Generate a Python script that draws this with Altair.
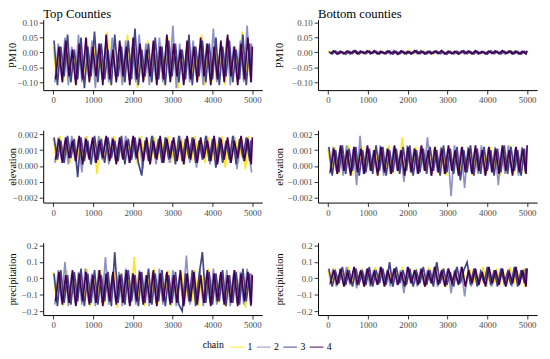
import altair as alt
import pandas as pd

ITER = [1, 86, 170, 255, 340, 424, 509, 594, 678, 763,
        848, 932, 1017, 1102, 1186, 1271, 1356, 1440, 1525, 1610,
        1694, 1779, 1864, 1948, 2033, 2118, 2202, 2287, 2372, 2456,
        2541, 2626, 2710, 2795, 2880, 2964, 3049, 3134, 3218, 3303,
        3388, 3472, 3557, 3642, 3726, 3811, 3896, 3980, 4065, 4150,
        4234, 4319, 4404, 4488, 4573, 4658, 4742, 4827, 4912, 4940]
# each chain's draws were thinned at slightly different iterations
CHAIN_SHIFT = [0, 42, 21, 60]

CHAINS = ["1", "2", "3", "4"]
COLORS = ["#FDE725", "#8F92C4", "#414487", "#440154"]
TITLES = ["Top Counties", "Bottom counties"]

# ---- Top counties, PM10
A1 = [.02,-.09,.01,-.10,.04,-.08,.00,-.11,.03,-.07, .05,-.09,.02,-.10,.01,-.08,.07,-.11,.00,-.09,
      .03,-.10,.06,-.08,.01,-.12,.02,-.09,.04,-.10, .00,-.08,.03,-.11,.05,-.09,.02,-.12,.01,-.10,
      .04,-.08,.02,-.09,.06,-.11,.01,-.10,.03,-.09, .00,-.11,.05,-.08,.02,-.10,.07,-.09,.01,-.08]
A2 = [-.10,.03,-.08,.05,-.11,.02,-.09,.06,-.10,.01, -.08,.04,-.12,.03,-.09,.02,-.10,.05,-.08,.01,
      -.11,.04,-.09,.02,-.10,.06,-.08,.03,-.11,.00, -.09,.05,-.10,.02,-.08,.09,-.12,.03,-.09,.01,
      -.10,.04,-.08,.02,-.11,.03,-.09,.08,-.10,.01, -.08,.05,-.11,.02,-.09,.04,-.10,.09,-.08,.03]
A3 = [.04,-.11,.02,-.08,.06,-.10,.01,-.09,.05,-.12, .02,-.08,.07,-.10,.03,-.09,.01,-.11,.06,-.08,
      .02,-.10,.04,-.09,.08,-.11,.01,-.08,.03,-.10, .05,-.09,.02,-.11,.04,-.08,.03,-.10,.01,-.09,
      .06,-.11,.02,-.08,.04,-.10,.03,-.09,.05,-.11, .02,-.08,.04,-.10,.01,-.09,.06,-.11,.03,-.10]
A4 = [-.09,.02,-.10,.04,-.08,.01,-.11,.03,-.09,.05, -.10,.02,-.08,.03,-.11,.06,-.09,.01,-.10,.04,
      -.08,.02,-.11,.05,-.09,.03,-.10,.01,-.08,.04, -.11,.02,-.09,.06,-.10,.03,-.08,.01,-.11,.04,
      -.09,.02,-.10,.05,-.08,.03,-.11,.02,-.09,.04, -.10,.06,-.08,.02,-.11,.03,-.09,.05,-.10,.02]

# ---- Bottom counties, PM10
B1 = [.004,-.004,.003,-.005,.005,-.003,.002,-.006,.004,-.004, .003,-.005,.006,-.003,.002,-.004,.005,-.006,.003,-.004,
      .004,-.003,.002,-.005,.007,-.004,.003,-.005,.004,-.003, .005,-.006,.002,-.004,.003,-.005,.006,-.003,.004,-.004,
      .002,-.005,.005,-.004,.003,-.006,.004,-.003,.005,-.004, .003,-.005,.002,-.004,.006,-.003,.004,-.005,.003,-.004]
B2 = [-.005,.004,-.003,.005,-.004,.003,-.006,.004,-.003,.005, -.004,.006,-.005,.003,-.004,.005,-.003,.004,-.006,.007,
      -.004,.005,-.003,.004,-.005,.003,-.004,.006,-.003,.004, -.005,.003,-.004,.005,-.006,.004,-.003,.005,-.004,.003,
      -.005,.006,-.004,.003,-.005,.004,-.003,.005,-.004,.006, -.003,.004,-.005,.003,-.004,.005,-.006,.004,-.003,.005]
B3 = [.003,-.005,.005,-.004,.002,-.006,.004,-.003,.006,-.005, .003,-.004,.005,-.003,.004,-.005,.002,-.004,.005,-.006,
      .003,-.004,.004,-.005,.002,-.003,.006,-.004,.003,-.005, .004,-.003,.005,-.004,.002,-.006,.003,-.005,.004,-.003,
      .006,-.004,.003,-.005,.004,-.003,.002,-.006,.005,-.004, .003,-.005,.004,-.003,.005,-.004,.003,-.006,.004,-.003]
B4 = [-.004,.005,-.006,.003,-.004,.005,-.003,.006,-.005,.004, -.003,.005,-.004,.006,-.005,.003,-.004,.005,-.003,.004,
      -.006,.005,-.004,.003,-.005,.006,-.003,.004,-.005,.003, -.004,.005,-.003,.006,-.005,.004,-.004,.003,-.006,.005,
      -.003,.004,-.005,.006,-.004,.003,-.005,.004,-.003,.005, -.004,.006,-.003,.005,-.005,.004,-.004,.003,-.005,.006]

# ---- Top counties, elevation
C1 = [.0017,.0003,.0019,.0005,.0016,.0002,.0018,-.0003,.0017,.0004, .0019,.0001,.0016,-.0005,.0018,.0003,.0017,.0004,.0019,.0002,
      .0016,.0005,.0018,.0003,.0017,.0001,.0019,.0004,.0016,.0002, .0018,.0005,.0017,.0003,.0019,.0002,.0016,.0004,.0018,.0001,
      .0017,.0003,.0019,.0005,.0016,.0002,.0018,.0004,.0017,.0003, .0019,-.0001,.0016,.0004,.0018,.0002,.0017,-.0002,.0019,.0003]
C2 = [.0002,.0018,.0004,.0016,.0001,.0019,.0003,.0017,-.0004,.0018, .0005,.0016,.0002,.0019,.0004,.0017,.0001,.0018,.0003,.0016,
      .0005,.0019,.0002,.0017,.0004,.0018,-.0002,.0016,.0003,.0019, .0001,.0017,.0004,.0018,.0002,.0016,.0005,.0019,.0003,.0017,
      .0002,.0018,-.0001,.0016,.0004,.0019,.0001,.0017,.0003,.0018, .0005,.0016,.0002,.0019,-.0002,.0017,.0003,.0018,.0001,-.0004]
C3 = [.0018,.0004,.0016,.0002,.0019,.0005,.0017,-.0007,.0018,.0003, .0016,.0001,.0019,.0004,.0017,.0002,.0018,.0005,.0016,.0003,
      .0019,.0001,.0017,.0004,.0018,.0002,-.0006,.0016,.0003,.0019, .0005,.0017,.0002,.0018,.0004,.0016,.0001,.0019,.0003,.0017,
      .0005,.0018,.0002,.0016,.0004,.0019,.0003,.0017,-.0001,.0018, .0002,.0016,.0004,.0019,.0001,.0017,.0005,.0018,.0003,.0016]
C4 = [.0004,.0017,.0002,.0018,.0005,.0016,.0003,.0019,.0001,.0017, .0004,.0018,.0002,.0016,.0005,.0019,.0003,.0017,.0001,.0018,
      .0004,.0016,.0002,.0019,.0005,.0017,.0003,.0018,.0001,.0016, .0004,.0019,.0002,.0017,.0005,.0018,.0003,.0016,.0001,.0019,
      .0004,.0017,.0002,.0018,.0005,.0016,.0003,.0019,.0001,.0017, .0004,.0018,.0002,.0016,.0005,.0019,.0003,.0017,.0001,.0018]

# ---- Bottom counties, elevation
D1 = [.0011,-.0004,.0012,-.0005,.0010,-.0003,.0013,-.0006,.0011,-.0004, .0012,-.0005,.0010,-.0003,.0011,-.0006,.0012,-.0004,.0013,-.0005,
      .0010,-.0004,.0018,-.0003,.0011,-.0006,.0012,-.0005,.0010,-.0004, .0013,-.0003,.0011,-.0005,.0012,-.0006,.0010,-.0004,.0011,-.0005,
      .0012,-.0003,.0013,-.0006,.0010,-.0004,.0011,-.0005,.0012,-.0003, .0010,-.0006,.0011,-.0004,.0013,-.0005,.0012,-.0003,.0011,-.0004]
D2 = [-.0005,.0012,-.0003,.0010,-.0006,.0013,-.0004,.0011,-.0012,.0019, -.0005,.0012,-.0003,.0010,-.0004,.0013,-.0006,.0011,-.0005,.0012,
      -.0003,.0010,-.0010,.0013,-.0004,.0011,-.0005,.0012,-.0003,.0018, -.0006,.0011,-.0004,.0012,-.0005,.0010,-.0019,.0013,-.0003,.0011,
      -.0014,.0012,-.0004,.0010,-.0005,.0013,-.0006,.0011,-.0004,.0012, -.0012,.0010,-.0005,.0013,-.0004,.0011,-.0006,.0012,-.0003,.0010]
D3 = [.0012,-.0006,.0010,-.0004,.0013,-.0005,.0011,-.0003,.0012,-.0006, .0010,-.0004,.0011,-.0005,.0013,-.0003,.0012,-.0006,.0010,-.0004,
      .0011,-.0005,.0012,-.0003,.0013,-.0006,.0010,-.0004,.0011,-.0005, .0012,-.0003,.0010,-.0006,.0013,-.0004,.0011,-.0005,.0012,-.0009,
      .0010,-.0004,.0013,-.0006,.0011,-.0005,.0012,-.0003,.0010,-.0006, .0011,-.0004,.0013,-.0005,.0012,-.0003,.0010,-.0006,.0011,-.0004]
D4 = [-.0004,.0011,-.0005,.0013,-.0003,.0010,-.0006,.0012,-.0004,.0011, -.0005,.0013,-.0003,.0010,-.0006,.0012,-.0004,.0011,-.0005,.0013,
      -.0003,.0010,-.0006,.0012,-.0004,.0011,-.0005,.0013,-.0003,.0010, -.0006,.0012,-.0004,.0011,-.0005,.0013,-.0003,.0010,-.0006,.0012,
      -.0004,.0011,-.0005,.0013,-.0003,.0010,-.0006,.0012,-.0004,.0011, -.0005,.0013,-.0003,.0010,-.0006,.0012,-.0004,.0011,-.0005,.0013]

# ---- Top counties, precipitation
E1 = [.04,-.15,.03,-.17,.05,-.14,.02,-.16,.04,-.15, .06,-.17,.03,-.14,.05,-.16,.02,-.15,.04,-.18,
      .03,-.14,.05,-.16,.13,-.15,.02,-.17,.04,-.14, .06,-.16,.03,-.15,.05,-.17,.02,-.14,.04,-.16,
      .03,-.15,.05,-.17,.02,-.14,.06,-.16,.03,-.15, .04,-.17,.02,-.14,.05,-.16,.03,-.18,.04,-.15]
E2 = [-.16,.05,-.14,.10,-.17,.03,-.15,.04,-.16,.06, -.14,.03,-.17,.05,-.15,.13,-.16,.02,-.14,.04,
      -.17,.06,-.15,.03,-.16,.05,-.14,.02,-.17,.04, -.15,.06,-.16,.03,-.14,.05,-.17,.02,-.15,.14,
      -.16,.04,-.14,.05,-.17,.03,-.15,.06,-.16,.02, -.14,.05,-.17,.03,-.15,.04,-.16,.06,-.14,.03]
E3 = [.03,-.17,.05,-.15,.02,-.16,.04,-.14,.06,-.17, .03,-.15,.05,-.16,.02,-.14,.04,-.17,.16,-.15,
      .03,-.16,.05,-.14,.02,-.17,.04,-.15,.06,-.16, .03,-.14,.05,-.17,.02,-.15,.04,-.16,-.20,.03,
      -.14,.05,-.17,.02,.16,-.15,.04,-.16,.03,-.14, .05,-.17,.02,-.15,.04,-.16,.06,-.14,.03,-.17]
E4 = [-.14,.04,-.16,.02,-.15,.05,-.17,.03,-.14,.04, -.16,.02,-.15,.05,-.17,.03,-.14,.04,-.16,.02,
      -.15,.05,-.17,.03,-.14,.04,-.16,.02,-.15,.05, -.17,.03,-.14,.04,-.16,.02,-.15,.05,-.17,.03,
      -.14,.04,-.16,.02,-.15,.05,-.17,.03,-.14,.04, -.16,.02,-.15,.05,-.17,.03,-.14,.04,-.16,.02]

# ---- Bottom counties, precipitation
F1 = [.05,-.04,.06,-.03,.04,-.05,.07,-.04,.05,-.03, .06,-.05,.04,-.04,.07,-.03,.05,-.05,.06,-.04,
      .04,-.03,.07,-.05,.05,-.04,.06,-.03,.04,-.05, .07,-.04,.09,-.03,.06,-.05,.04,-.04,.07,-.03,
      .05,-.05,.06,-.04,.04,-.03,.07,-.05,.05,-.04, .06,-.03,.04,-.05,.07,-.04,.05,-.03,.06,-.05]
F2 = [-.04,.06,-.05,.04,-.03,.07,-.04,.05,-.06,.04, -.03,.06,-.05,.05,-.04,.07,-.03,.04,-.05,.06,
      -.04,.05,-.09,.07,-.03,.04,-.05,.06,-.04,.05, -.03,.07,-.05,.04,-.04,.06,-.09,.05,-.03,.07,
      -.11,.04,-.05,.06,-.04,.05,-.03,.07,-.05,.04, -.04,.06,-.03,.05,-.05,.07,-.04,.04,-.03,.06]
F3 = [.06,-.05,.04,-.03,.07,-.04,.05,-.05,.06,-.03, .04,-.04,.07,-.05,.05,-.03,.06,-.04,.10,-.05,
      .07,-.03,.05,-.04,.06,-.05,.04,-.03,.07,-.04, .05,-.05,.10,-.03,.06,-.04,.04,-.05,.07,-.03,
      .05,.10,-.04,.06,-.05,.04,-.03,.07,-.04,.05, -.05,.06,-.03,.04,-.04,.07,-.05,.05,-.03,.06]
F4 = [-.03,.05,-.04,.06,-.05,.04,-.03,.07,-.04,.05, -.05,.06,-.03,.04,-.04,.07,-.05,.05,-.03,.06,
      -.04,.04,-.05,.07,-.03,.05,-.04,.06,-.05,.04, -.03,.07,-.04,.05,-.05,.06,-.03,.04,-.04,.07,
      -.05,.05,-.03,.06,-.04,.04,-.05,.07,-.03,.05, -.04,.06,-.05,.04,-.03,.07,-.04,.05,-.05,.06]

SERIF = "Liberation Serif"


def frame(chains):
    rows = []
    for c, shift, vals in zip(CHAINS, CHAIN_SHIFT, chains):
        for k, (it, v) in enumerate(zip(ITER, vals)):
            rows.append({"iter": it + shift, "value": v, "chain": c, "k": k})
    return pd.DataFrame(rows)


def panel(chains, ytitle, domain, ticks, fmt, height, title_x, title=None):
    ch = alt.Chart(frame(chains)).mark_line(strokeWidth=1.7, clip=True).encode(
        x=alt.X("iter:Q",
                scale=alt.Scale(domain=[-250, 5250], nice=False, zero=False),
                axis=alt.Axis(values=[0, 1000, 2000, 3000, 4000, 5000], format="d", title=None)),
        y=alt.Y("value:Q",
                scale=alt.Scale(domain=domain, nice=False, zero=False),
                axis=alt.Axis(values=ticks, format=fmt, title=ytitle, titleX=title_x)),
        color=alt.Color("chain:N",
                        scale=alt.Scale(domain=CHAINS, range=COLORS),
                        legend=alt.Legend(title="chain", orient="none", direction="horizontal",
                                          legendX=163, legendY=327,
                                          titleOrient="left", symbolType="stroke",
                                          symbolStrokeWidth=1, symbolSize=196,
                                          labelFontSize=10, titleFontSize=10,
                                          labelFont=SERIF, titleFont=SERIF,
                                          titleFontWeight="normal", labelColor="black",
                                          titleColor="black", labelOffset=3, columnPadding=2,
                                          titlePadding=6)),
        order=alt.Order("k:Q"),
    ).properties(width=224, height=height)
    if title:
        lab = alt.Chart(pd.DataFrame({"t": [title]})).mark_text(
            align="left", baseline="alphabetic", fontSize=13, font=SERIF, color="black"
        ).encode(text="t:N", x=alt.value(0), y=alt.value(-2))
        return alt.layer(ch, lab)
    return ch


PM_DOM = [-0.1262, 0.1098]
EL_DOM = [-0.0023, 0.00225]
PR_DOM = [-0.2239, 0.2179]
PM_T = [-0.10, -0.05, 0.0, 0.05, 0.10]
EL_T = [-0.002, -0.001, 0.0, 0.001, 0.002]
PR_T = [-0.2, -0.1, 0.0, 0.1, 0.2]

panels = [
    panel([A1, A2, A3, A4], "PM10", PM_DOM, PM_T, ".2f", 72, -26, TITLES[0]),
    panel([B1, B2, B3, B4], "PM10", PM_DOM, PM_T, ".2f", 72, -34, TITLES[1]),
    panel([C1, C2, C3, C4], "elevation", EL_DOM, EL_T, ".3f", 74, -26),
    panel([D1, D2, D3, D4], "elevation", EL_DOM, EL_T, ".3f", 74, -34),
    panel([E1, E2, E3, E4], "precipitation", PR_DOM, PR_T, ".1f", 74, -26),
    panel([F1, F2, F3, F4], "precipitation", PR_DOM, PR_T, ".1f", 74, -34),
]

chart = alt.concat(*panels, columns=2, spacing={"row": 41, "column": 57},
                   bounds="flush", align="each").properties(
    padding={"left": 0, "top": -4, "right": 5, "bottom": 5}, background="white"
).configure_view(stroke=None).configure_axis(
    grid=False, domainColor="black", domainWidth=1, tickColor="#333333", tickSize=4,
    labelFont=SERIF, labelFontSize=9, labelColor="#4D4D4D", labelPadding=2,
    titleFont=SERIF, titleFontSize=10.5, titleFontWeight="normal", titleColor="black",
)

chart.save("out.html", embed_options={"renderer": "svg", "actions": False})
